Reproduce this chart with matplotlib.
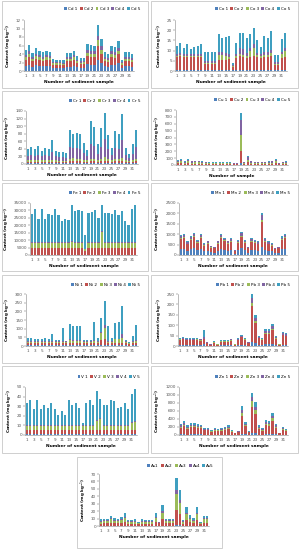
import matplotlib
matplotlib.use("Agg")
import matplotlib.pyplot as plt
from matplotlib.patches import Rectangle
import numpy as np

plt.rcParams['font.family'] = ['DejaVu Sans']

samples = list(range(1, 33))
xtick_labels = [str(i) for i in range(1, 32, 2)]
colors = ['#4F81BD', '#C0504D', '#9BBB59', '#8064A2', '#3F9FC0']

# ---------------- data ----------------
cd_1 = [1.2,1.5,1.0,1.3,1.2,1.1,1.2,1.1,0.7,0.7,0.7,0.6,1.0,1.0,1.2,0.9,0.7,0.8,1.6,1.5,1.5,2.7,1.9,1.1,1.0,1.5,1.4,1.8,0.7,1.1,1.1,1.0]
cd_2 = [1.5,1.8,1.3,1.6,1.4,1.3,1.4,1.4,0.8,0.8,0.8,0.8,1.3,1.3,1.4,1.0,0.9,0.9,1.9,1.8,1.8,3.2,2.2,1.3,1.2,1.8,1.7,2.1,0.8,1.3,1.3,1.2]
cd_3 = [0.6,0.7,0.5,0.6,0.6,0.5,0.6,0.5,0.3,0.3,0.3,0.3,0.5,0.5,0.6,0.4,0.4,0.4,0.8,0.7,0.7,1.3,0.9,0.5,0.5,0.7,0.7,0.9,0.3,0.5,0.5,0.5]
cd_4 = [0.5,0.6,0.4,0.5,0.5,0.4,0.5,0.5,0.3,0.3,0.3,0.3,0.4,0.4,0.5,0.4,0.3,0.3,0.6,0.6,0.6,1.1,0.8,0.4,0.4,0.6,0.6,0.7,0.3,0.4,0.4,0.4]
cd_5 = [1.1,1.5,1.0,1.3,1.1,1.1,1.1,1.0,0.7,0.6,0.6,0.6,1.0,1.0,1.1,0.8,0.7,0.7,1.4,1.5,1.4,2.5,1.7,1.1,0.8,1.4,1.3,1.6,0.6,1.1,1.1,0.8]

co_1 = [0.5,0.5,0.5,0.5,0.5,0.5,0.5,0.5,0.5,0.5,0.5,0.5,0.5,0.5,0.5,0.5,0.5,0.5,0.5,0.5,0.5,0.5,0.5,0.5,0.5,0.5,0.5,0.5,0.5,0.5,0.5,0.5]
co_2 = [6.5,6.8,6.5,6.5,6.3,6.5,6.5,6.5,3.0,3.0,3.0,3.0,5.0,5.0,5.0,5.5,1.5,6.0,7.0,6.5,6.0,6.5,7.0,6.5,6.0,6.5,6.5,7.0,2.5,2.5,6.0,6.5]
co_3 = [0.5,0.5,0.5,0.5,0.5,0.5,0.5,0.5,0.5,0.5,0.5,0.5,2.5,2.5,2.0,1.0,0.3,1.0,1.0,1.0,1.0,3.0,4.0,1.0,1.0,1.0,1.0,1.5,0.5,0.5,2.0,3.0]
co_4 = [1.0,1.0,1.0,1.0,1.0,1.0,1.0,1.0,1.0,1.0,1.0,1.0,1.5,1.5,1.5,1.5,0.5,1.0,3.0,3.0,1.5,1.5,1.5,1.0,1.0,1.5,1.5,1.5,1.0,1.0,1.0,1.5]
co_5 = [3.8,5.0,2.8,4.5,2.7,3.5,3.8,4.5,4.4,4.4,4.4,4.4,8.5,6.5,7.5,8.5,1.2,5.3,7.0,7.5,7.0,6.5,8.0,6.0,3.5,7.5,6.5,9.0,3.5,3.5,6.0,7.0]

cr_1 = [2,2,2,2,2,2,2,2,2,2,2,2,3,3,3,3,2,2,3,3,2,3,3,3,2,3,3,3,2,2,2,3]
cr_2 = [4,4,4,4,4,4,4,4,4,4,4,4,5,5,5,5,4,4,5,5,4,5,6,5,4,5,5,6,4,4,4,5]
cr_3 = [4,4,4,4,4,4,4,5,4,3,3,3,6,8,6,6,4,4,6,6,4,6,10,6,4,6,6,8,4,3,4,6]
cr_4 = [12,14,12,15,10,13,12,21,10,9,9,8,31,25,28,26,18,11,40,34,17,32,47,25,13,29,26,46,13,7,17,31]
cr_5 = [17,20,17,23,15,20,17,31,15,13,13,12,46,37,41,38,27,16,59,50,25,48,70,38,20,44,38,68,20,11,25,46]

cu_1 = [4,4,3,4,3,3,3,3,2,2,2,2,2,2,2,2,2,2,30,3,6,3,2,2,2,3,3,3,4,2,2,3]
cu_2 = [18,21,14,21,15,16,16,14,11,10,10,10,10,10,10,10,9,9,170,12,33,15,11,11,11,12,14,15,21,9,11,14]
cu_3 = [21,26,16,26,18,20,20,16,14,12,12,12,12,12,12,12,10,10,230,15,39,18,14,14,14,15,16,18,26,10,14,16]
cu_4 = [17,21,14,21,15,16,16,14,11,10,10,10,10,10,10,10,9,9,220,12,32,15,11,11,11,12,14,15,21,9,11,14]
cu_5 = [10,13,8,13,9,10,10,8,7,6,6,6,6,6,6,6,5,5,110,8,20,9,7,7,7,8,8,9,13,5,7,8]

fe_1 = [300,300,300,300,300,300,300,300,300,300,300,300,300,300,300,300,300,300,300,300,300,300,300,300,300,300,300,300,300,300,300,300]
fe_2 = [4500,4500,4500,4500,4500,4500,4500,4500,4500,4500,4500,4500,4500,4500,4500,4500,2500,4500,4500,4500,4500,4500,4500,4500,4500,4500,4500,4500,4500,4500,4500,4500]
fe_3 = [3500,3500,3500,3500,3500,3500,3500,3500,3500,3500,3500,3500,4000,3500,3500,3500,1000,3500,3500,3500,3500,11000,3500,3500,3500,3500,3500,3500,3500,3500,3500,3500]
fe_4 = [500,500,500,500,500,500,500,500,500,500,500,500,500,500,500,500,500,500,500,500,500,500,500,500,500,500,500,500,500,500,500,500]
fe_5 = [19100,22400,15300,22000,15300,18600,18000,22000,18000,14200,15200,14600,24100,20600,21300,20600,9100,19700,20200,21300,16400,17100,19700,19700,18600,21300,18000,20900,13900,11300,22400,25100]

mn_1 = [290,300,200,270,320,220,300,170,210,140,120,210,310,250,210,240,70,220,330,220,120,240,220,200,400,240,200,170,110,120,270,300]
mn_2 = [490,500,320,450,540,360,500,280,340,220,200,340,510,420,340,400,120,360,550,360,200,400,360,320,1200,400,320,280,170,200,440,500]
mn_3 = [50,50,30,40,50,40,50,30,30,20,20,30,50,40,30,40,10,40,50,40,20,40,40,30,100,40,30,30,20,20,40,50]
mn_4 = [100,100,70,90,110,70,100,60,70,50,40,70,100,80,70,80,30,70,110,70,40,80,70,70,220,80,70,60,30,40,90,100]
mn_5 = [40,50,30,40,60,40,50,20,40,20,20,40,50,50,40,50,10,40,60,40,20,50,40,30,100,50,30,20,20,20,50,50]

ni_1 = [3,3,3,3,3,3,3,3,3,3,3,3,3,3,3,3,3,3,3,3,3,3,3,3,3,3,3,3,3,2,3,3]
ni_2 = [15,15,15,15,15,15,15,15,15,15,15,15,15,15,15,15,15,15,15,15,15,30,40,15,15,15,15,15,15,10,15,15]
ni_3 = [5,5,5,5,5,5,5,5,5,5,5,5,15,10,10,10,5,5,5,10,5,40,60,5,5,20,20,30,5,3,5,10]
ni_4 = [5,5,5,5,5,5,5,5,5,5,5,5,5,5,5,5,5,5,5,5,5,5,20,5,5,5,5,20,5,3,5,5]
ni_5 = [19,20,15,15,15,20,15,44,9,5,73,1,88,81,81,81,9,9,9,107,20,85,137,86,17,92,97,162,7,7,32,87]

pb_1 = [4,4,4,4,4,4,3,8,2,1,2,1,3,3,3,3,1,4,5,4,2,20,15,5,4,8,8,10,5,1,7,6]
pb_2 = [26,29,25,25,25,26,23,25,12,5,14,6,18,18,18,23,6,25,36,26,13,170,95,32,26,52,52,68,30,6,44,41]
pb_3 = [2,2,2,2,2,2,2,3,1,0.5,1,1,1,1,1,2,1,2,3,2,1,15,8,3,2,4,4,5,2,1,3,3]
pb_4 = [4,5,4,4,4,4,4,5,2,1,2,1,3,3,3,4,1,4,6,4,2,25,15,5,4,8,8,11,5,1,7,7]
pb_5 = [4,4,4,4,4,4,3,35,1,0.5,3,1,3,3,3,3,1,3,5,4,2,20,15,5,4,8,8,11,5,1,7,6]

v_1 = [1,1,1,1,1,1,1,1,1,1,1,1,1,1,1,1,1,1,1,1,1,1,1,1,1,1,1,1,1,1,1,1]
v_2 = [4,4,4,4,4,4,4,4,4,4,4,4,4,4,4,4,4,4,4,4,4,4,4,4,4,4,4,4,4,4,4,4]
v_3 = [4,4,4,4,4,4,4,4,4,4,4,4,4,4,4,4,4,4,4,4,10,12,4,4,4,4,4,4,4,4,8,9]
v_4 = [1,1,1,1,1,1,1,1,1,1,1,1,1,1,1,1,1,1,1,1,1,1,1,1,1,1,1,1,1,1,1,1]
v_5 = [23,26,17,26,17,21,18,23,17,11,15,11,26,21,23,18,3,23,26,21,30,20,21,21,26,25,18,19,23,17,29,33]

zn_1 = [14,17,12,15,15,14,13,9,9,6,8,8,8,10,12,6,3,6,36,16,5,50,40,12,8,19,18,28,14,3,10,8]
zn_2 = [170,205,150,180,180,160,155,110,110,72,100,90,100,115,145,78,36,66,430,200,60,650,490,145,100,230,210,330,170,36,120,90]
zn_3 = [28,34,25,30,30,27,26,18,18,12,17,15,17,19,24,13,6,11,90,33,10,150,90,24,17,38,35,55,28,6,20,15]
zn_4 = [28,34,25,30,30,27,26,18,18,12,17,15,17,19,24,13,6,11,72,33,10,100,90,24,17,38,35,55,28,6,20,15]
zn_5 = [40,50,38,45,45,42,40,25,25,18,28,22,28,27,35,20,9,16,92,48,15,100,110,35,28,55,52,82,40,9,30,22]

as_1 = [0.5,0.5,0.5,0.5,0.5,0.5,0.5,0.5,0.5,0.5,0.5,0.5,0.5,0.5,0.5,0.5,0.5,0.5,0.5,0.5,0.5,0.5,1,1,0.5,0.5,0.5,0.5,0.5,0.5,0.5,0.5]
as_2 = [2.7,3,3,4.2,3.3,3,3.6,5.1,2.4,2.4,2.7,1.8,2.7,2.4,2.4,2.4,5.1,3.5,8.4,3,3,3,20,14.7,2.4,7.5,4.5,3.3,7.5,1.8,4.2,4.2]
as_3 = [2.7,3,3,4.2,3.3,3,3.6,5.1,2.4,2.4,2.7,1.8,2.7,2.4,2.4,2.4,5.1,0.5,8.4,3,3,3,22,14.7,2.4,7.5,4.5,3.3,7.5,1.8,4.2,4.2]
as_4 = [0.9,1,1,1.4,1.1,1,1.2,1.7,0.8,0.8,0.9,0.6,0.9,0.8,0.8,0.8,1.7,0.3,2.8,1,1,1,5,4.9,0.8,2.5,1.5,1.1,2.5,0.6,1.4,1.4]
as_5 = [2.2,2.5,2.5,3.7,2.8,2.5,3.1,4.6,1.9,1.9,2.2,1.3,2.2,1.9,1.9,1.9,4.6,0.2,7.9,2.5,2.5,2.5,16,13.7,1.9,7,4,2.8,7,1.3,3.7,3.7]

# ---------------- layout ----------------
W, H = 301, 550
fig = plt.figure(figsize=(W / 100, H / 100), dpi=100)
fig.patch.set_facecolor('white')

boxes = [(2, 1, 148, 88), (151, 1, 298, 88),
         (2, 91, 148, 180), (151, 91, 298, 180),
         (2, 183, 148, 271), (151, 183, 298, 271),
         (2, 275, 148, 363), (151, 275, 298, 363),
         (2, 366, 148, 453), (151, 366, 298, 453),
         (77, 457, 222, 548)]
for (x0, y0, x1, y1) in boxes:
    fig.add_artist(Rectangle((x0 / W, 1 - y1 / H), (x1 - x0) / W, (y1 - y0) / H,
                             transform=fig.transFigure, fill=False,
                             edgecolor='#c8c8c8', linewidth=0.6))

FS = 3.0

def panel(name, series, rect, ymax, ystep, legend_pos, sep=' ',
          xlabel='Number of sediment sample'):
    x0, yt, x1, yb = rect
    ax = fig.add_axes([x0 / W, 1 - yb / H, (x1 - x0) / W, (yb - yt) / H])
    x = np.array(samples)
    bottom = np.zeros(len(samples))
    handles = []
    for i, s in enumerate(series):
        vals = np.array(s, dtype=float)
        b = ax.bar(x, vals, width=0.7, bottom=bottom, color=colors[i],
                   linewidth=0, label=f'{name}{sep}{i + 1}')
        handles.append(b)
        bottom += vals
    ax.set_xlim(0.5, 32.5)
    ax.set_ylim(0, ymax)
    ax.set_yticks(np.arange(0, ymax + ystep / 2, ystep))
    ax.set_xticks(list(range(1, 32, 2)))
    ax.set_xticklabels(xtick_labels)
    ax.tick_params(axis='both', labelsize=FS, length=1.2, width=0.3,
                   colors='#555555', pad=1.0)
    ax.tick_params(axis='x', length=0, pad=2.0)
    for sp in ['top', 'right']:
        ax.spines[sp].set_visible(False)
    for sp in ['left', 'bottom']:
        ax.spines[sp].set_linewidth(0.4)
        ax.spines[sp].set_color('#888888')
    ax.set_ylabel('Content (mg kg$^{-1}$)', fontsize=FS, fontweight='bold',
                  labelpad=1.5)
    ax.set_xlabel(xlabel, fontsize=FS + 0.2, fontweight='bold', labelpad=1.8)
    ax.patch.set_alpha(0)
    lx, ly = legend_pos
    ax.legend(handles=handles, loc='center right', ncol=5,
              bbox_to_anchor=(lx / W, 1 - ly / H), bbox_transform=fig.transFigure,
              fontsize=FS, frameon=False, handlelength=0.7, handleheight=0.7,
              handletextpad=0.25, columnspacing=0.55, borderaxespad=0, borderpad=0)
    return ax

panel('Cd', [cd_1, cd_2, cd_3, cd_4, cd_5], (24, 20, 134, 71), 12, 2, (140, 9))
panel('Co', [co_1, co_2, co_3, co_4, co_5], (175, 20, 287, 71), 25, 5, (290, 9))
panel('Cr', [cr_1, cr_2, cr_3, cr_4, cr_5], (26, 111, 138, 164), 140, 20, (140, 101))
panel('Cu', [cu_1, cu_2, cu_3, cu_4, cu_5], (176, 110, 288, 165), 800, 100, (290, 100),
      xlabel='Number of sample')
panel('Fe', [fe_1, fe_2, fe_3, fe_4, fe_5], (30, 203, 137, 255), 35000, 5000, (140, 193))
panel('Mn', [mn_1, mn_2, mn_3, mn_4, mn_5], (179, 203, 287, 255), 2500, 500, (290, 193))
panel('Ni', [ni_1, ni_2, ni_3, ni_4, ni_5], (26, 294, 138, 346), 300, 50, (140, 285))
panel('Pb', [pb_1, pb_2, pb_3, pb_4, pb_5], (178, 294, 288, 346), 250, 50, (290, 285))
panel('V', [v_1, v_2, v_3, v_4, v_5], (25, 387, 137, 435), 50, 10, (140, 377))
panel('Zn', [zn_1, zn_2, zn_3, zn_4, zn_5], (179, 387, 288, 435), 1200, 200, (290, 377))
panel('As', [as_1, as_2, as_3, as_4, as_5], (99, 474, 209, 526), 70, 10, (214, 466), sep='')

fig.savefig('out.png', dpi=100, facecolor='white')
